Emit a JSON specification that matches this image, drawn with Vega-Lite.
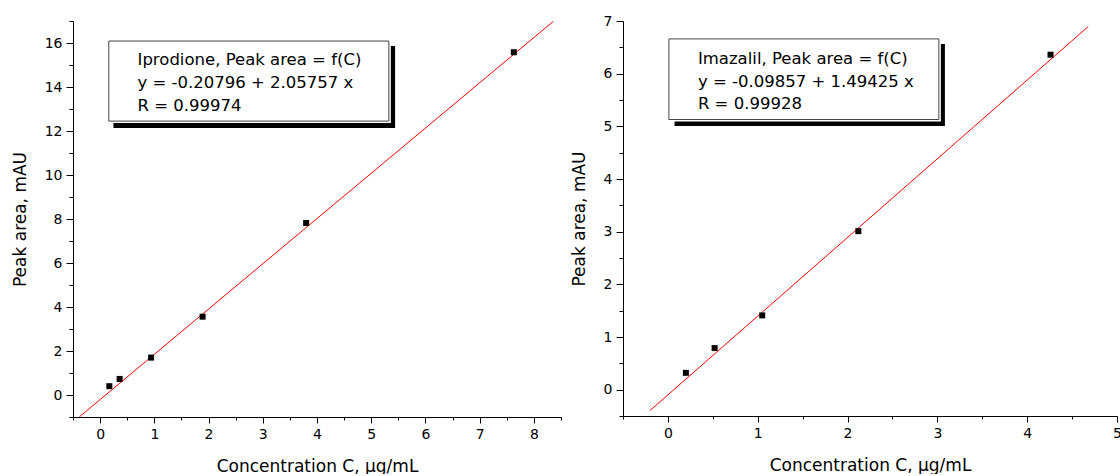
{
  "$schema": "https://vega.github.io/schema/vega-lite/v6.json",
  "background": "white",
  "padding": {"left": 11, "top": 14, "right": 0, "bottom": 0},
  "spacing": 8,
  "config": {
    "view": {"stroke": null},
    "font": "DejaVu Sans",
    "axis": {
      "grid": false,
      "domainColor": "black",
      "tickColor": "black",
      "labelColor": "black",
      "titleColor": "black",
      "labelFont": "DejaVu Sans",
      "labelFontSize": 14,
      "titleFont": "DejaVu Sans",
      "titleFontSize": 17,
      "titleFontWeight": "normal",
      "domainWidth": 1,
      "tickWidth": 1,
      "labelOverlap": false,
      "labelFlush": false
    }
  },
  "datasets": {
    "ipro_pts": [
      {"C": 0.17, "A": 0.40},
      {"C": 0.36, "A": 0.73},
      {"C": 0.94, "A": 1.70},
      {"C": 1.89, "A": 3.56},
      {"C": 3.80, "A": 7.82},
      {"C": 7.63, "A": 15.58}
    ],
    "ipro_fit": [
      {"C": -0.385, "A": -1.0},
      {"C": 8.36, "A": 16.99}
    ],
    "ipro_shadow": [{"C": 0.246, "C2": 5.44, "A": 15.86, "A2": 12.14}],
    "ipro_box": [{"C": 0.16, "C2": 5.325, "A": 16.09, "A2": 12.45}],
    "ipro_text": [
      {"C": 0.69, "A": 15.23, "label": "Iprodione, Peak area = f(C)"},
      {"C": 0.69, "A": 14.18, "label": "y = -0.20796 + 2.05757 x"},
      {"C": 0.69, "A": 13.14, "label": "R = 0.99974"}
    ],
    "ima_pts": [
      {"C": 0.20, "A": 0.32},
      {"C": 0.52, "A": 0.79},
      {"C": 1.05, "A": 1.41},
      {"C": 2.12, "A": 3.01},
      {"C": 4.26, "A": 6.36}
    ],
    "ima_fit": [
      {"C": -0.2, "A": -0.397},
      {"C": 4.68, "A": 6.895}
    ],
    "ima_shadow": [{"C": 0.074, "C2": 3.084, "A": 6.565, "A2": 5.006}],
    "ima_box": [{"C": 0.011, "C2": 3.017, "A": 6.66, "A2": 5.13}],
    "ima_text": [
      {"C": 0.334, "A": 6.27, "label": "Imazalil, Peak area = f(C)"},
      {"C": 0.334, "A": 5.85, "label": "y = -0.09857 + 1.49425 x"},
      {"C": 0.334, "A": 5.42, "label": "R = 0.99928"}
    ]
  },
  "hconcat": [
    {
      "width": 488,
      "height": 396,
      "encoding": {
        "x": {
          "field": "C",
          "type": "quantitative",
          "title": "Concentration C, μg/mL",
          "scale": {"domain": [-0.5, 8.5], "nice": false, "zero": false},
          "axis": {
            "values": [-0.5, 0, 0.5, 1, 1.5, 2, 2.5, 3, 3.5, 4, 4.5, 5, 5.5, 6, 6.5, 7, 7.5, 8, 8.5],
            "labelExpr": "datum.value % 1 === 0 ? format(datum.value, 'd') : ''",
            "tickSize": {"condition": {"test": "datum.value % 1 === 0", "value": 6}, "value": 3},
            "labelPadding": 4,
            "titlePadding": 17
          }
        },
        "y": {
          "field": "A",
          "type": "quantitative",
          "title": "Peak area, mAU",
          "scale": {"domain": [-1, 17], "nice": false, "zero": false},
          "axis": {
            "values": [-1, 0, 1, 2, 3, 4, 5, 6, 7, 8, 9, 10, 11, 12, 13, 14, 15, 16, 17],
            "labelExpr": "datum.value % 2 === 0 ? format(datum.value, 'd') : ''",
            "tickSize": {"condition": {"test": "datum.value % 2 === 0", "value": 7}, "value": 4},
            "labelPadding": 4,
            "titlePadding": 15
          }
        }
      },
      "layer": [
        {
          "data": {"name": "ipro_shadow"},
          "mark": {"type": "rect", "color": "black"},
          "encoding": {"x2": {"field": "C2"}, "y2": {"field": "A2"}}
        },
        {
          "data": {"name": "ipro_box"},
          "mark": {"type": "rect", "fill": "white", "stroke": "white", "strokeWidth": 4},
          "encoding": {"x2": {"field": "C2"}, "y2": {"field": "A2"}}
        },
        {
          "data": {"name": "ipro_box"},
          "mark": {"type": "rect", "fill": "white", "stroke": "#444444", "strokeWidth": 1},
          "encoding": {"x2": {"field": "C2"}, "y2": {"field": "A2"}}
        },
        {
          "data": {"name": "ipro_text"},
          "mark": {"type": "text", "align": "left", "baseline": "middle", "fontSize": 16.5, "font": "DejaVu Sans", "color": "black"},
          "encoding": {"text": {"field": "label"}}
        },
        {
          "data": {"name": "ipro_fit"},
          "mark": {"type": "line", "color": "red", "strokeWidth": 1, "clip": true}
        },
        {
          "data": {"name": "ipro_pts"},
          "mark": {"type": "square", "size": 36, "color": "black", "opacity": 1, "filled": true}
        }
      ]
    },
    {
      "width": 494,
      "height": 395,
      "encoding": {
        "x": {
          "field": "C",
          "type": "quantitative",
          "title": "Concentration C, μg/mL",
          "scale": {"domain": [-0.5, 5], "nice": false, "zero": false},
          "axis": {
            "values": [-0.5, 0, 0.5, 1, 1.5, 2, 2.5, 3, 3.5, 4, 4.5, 5],
            "labelExpr": "datum.value % 1 === 0 ? format(datum.value, 'd') : ''",
            "tickSize": {"condition": {"test": "datum.value % 1 === 0", "value": 6}, "value": 3},
            "labelPadding": 4,
            "titlePadding": 17
          }
        },
        "y": {
          "field": "A",
          "type": "quantitative",
          "title": "Peak area, mAU",
          "scale": {"domain": [-0.5, 7], "nice": false, "zero": false},
          "axis": {
            "values": [-0.5, 0, 0.5, 1, 1.5, 2, 2.5, 3, 3.5, 4, 4.5, 5, 5.5, 6, 6.5, 7],
            "labelExpr": "datum.value % 1 === 0 ? format(datum.value, 'd') : ''",
            "tickSize": {"condition": {"test": "datum.value % 1 === 0", "value": 7}, "value": 4},
            "labelPadding": 4,
            "titlePadding": 15
          }
        }
      },
      "layer": [
        {
          "data": {"name": "ima_shadow"},
          "mark": {"type": "rect", "color": "black"},
          "encoding": {"x2": {"field": "C2"}, "y2": {"field": "A2"}}
        },
        {
          "data": {"name": "ima_box"},
          "mark": {"type": "rect", "fill": "white", "stroke": "white", "strokeWidth": 4},
          "encoding": {"x2": {"field": "C2"}, "y2": {"field": "A2"}}
        },
        {
          "data": {"name": "ima_box"},
          "mark": {"type": "rect", "fill": "white", "stroke": "#444444", "strokeWidth": 1},
          "encoding": {"x2": {"field": "C2"}, "y2": {"field": "A2"}}
        },
        {
          "data": {"name": "ima_text"},
          "mark": {"type": "text", "align": "left", "baseline": "middle", "fontSize": 16.5, "font": "DejaVu Sans", "color": "black"},
          "encoding": {"text": {"field": "label"}}
        },
        {
          "data": {"name": "ima_fit"},
          "mark": {"type": "line", "color": "red", "strokeWidth": 1, "clip": true}
        },
        {
          "data": {"name": "ima_pts"},
          "mark": {"type": "square", "size": 36, "color": "black", "opacity": 1, "filled": true}
        }
      ]
    }
  ]
}
